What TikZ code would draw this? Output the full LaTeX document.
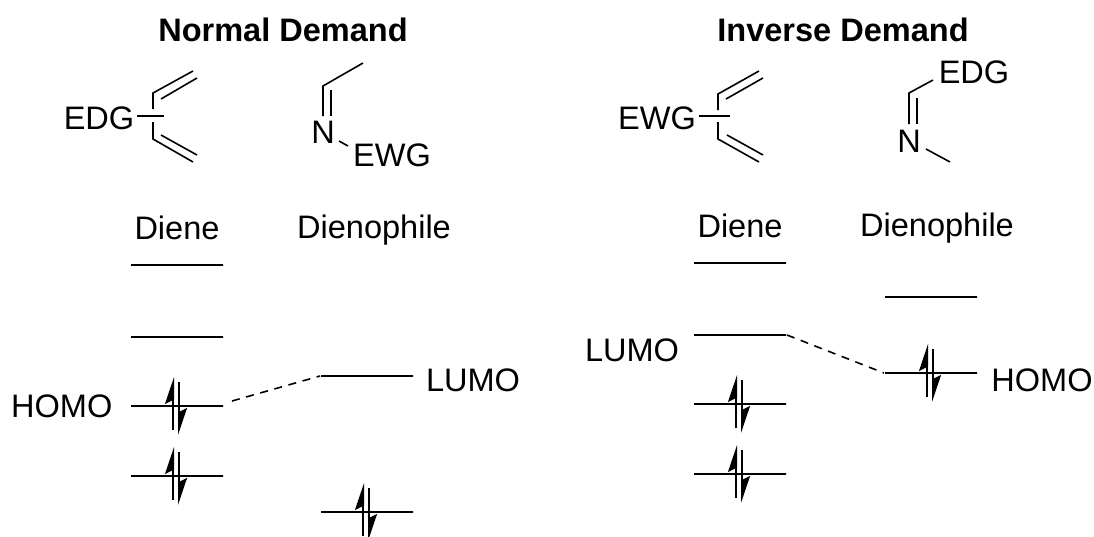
\documentclass[tikz,border=0pt]{standalone}
\usepackage{fontspec}
\setmainfont{Liberation Sans}
\usetikzlibrary{arrows.meta}
\tikzset{
    label text/.style={inner sep=0pt,font=\fontsize{24.4}{28}\selectfont},
    title text/.style={inner sep=0pt,font=\fontsize{24.4}{28}\selectfont\bfseries},
    orbital/.style={draw,line width=1.5pt,inner sep=0pt,minimum width=69pt,minimum height=0pt},
    bond/.style={line width=1.2pt},
    spinup/.style={line width=1.5pt,-{Stealth[harpoon,length=18pt,width=12pt,inset=3pt]}},
    spindown/.style={line width=1.5pt,-{Stealth[harpoon,length=18pt,width=12pt,inset=3pt]}},
    overlap/.style={line width=1.2pt,dashed,dash pattern=on 6pt off 5pt}
}
\begin{document}
\begin{tikzpicture}[x=0.75pt,y=-0.75pt]
    \clip (0,0) rectangle (1094,536);
    % normal demand
    \node[title text] (normal) at (283,30) {Normal Demand};
    \node[label text] (edgL) at (99,118) {EDG};
    \node[label text] (nL) at (323,132) {N};
    \node[label text] (ewgL) at (392,155) {EWG};
    \node[label text] (dieneL) at (177,228) {Diene};
    \node[label text] (phileL) at (374,230) {Dienophile};
    \draw[bond] (137,116) -- (164,116);
    \draw[bond] (153,109) -- (153,93) -- (193,71);
    \draw[bond] (161,99) -- (197,78);
    \draw[bond] (153,122) -- (153,139) -- (193,162);
    \draw[bond] (161,135) -- (197,155);
    \draw[bond] (363,63) -- (323,86) -- (323,116);
    \draw[bond] (331,90) -- (331,116);
    \draw[bond] (339,141) -- (348,146);
    \node[orbital] (dL1) at (177,265) {};
    \node[orbital] (dL2) at (177,337) {};
    \node[orbital] (dL3) at (177,406) {};
    \node[orbital] (dL4) at (177,476) {};
    \node[orbital] (pL1) at (367,376) {};
    \node[orbital] (pL2) at (367,512) {};
    \node[label text,left=13pt] (homoL) at (dL3.west) {HOMO};
    \node[label text] (lumoL) at (473,380) {LUMO};
    \coordinate (gapL) at (232,401);
    \draw[overlap] (gapL) -- (pL1.west);
    % inverse demand
    \node[title text] (inverse) at (843,30) {Inverse Demand};
    \node[label text] (ewgR) at (657,118) {EWG};
    \node[label text] (edgR) at (974,72) {EDG};
    \node[label text] (nR) at (909,141) {N};
    \node[label text] (dieneR) at (740,226) {Diene};
    \node[label text] (phileR) at (937,228) {Dienophile};
    \draw[bond] (699,116) -- (730,116);
    \draw[bond] (718,110) -- (718,94) -- (759,71);
    \draw[bond] (726,99) -- (763,78);
    \draw[bond] (718,122) -- (718,139) -- (759,162);
    \draw[bond] (727,135) -- (763,155);
    \draw[bond] (933,80) -- (909,93) -- (909,124);
    \draw[bond] (917,98) -- (917,124);
    \draw[bond] (926,149) -- (950,162);
    \node[orbital] (dR1) at (740,263) {};
    \node[orbital] (dR2) at (740,335) {};
    \node[orbital] (dR3) at (740,404) {};
    \node[orbital] (dR4) at (740,474) {};
    \node[orbital] (pR1) at (931,297) {};
    \node[orbital] (pR2) at (931,373) {};
    \node[label text] (lumoR) at (632,350) {LUMO};
    \node[label text] (homoR) at (1042,380) {HOMO};
    \draw[overlap] (dR2.east) -- (pR2.west);
    % electron pairs
    \foreach \lvl in {dL3,dL4,pL2,dR3,dR4,pR2} {
        \draw[spinup] ([shift={(-4,24)}]\lvl.center) -- ([shift={(-4,-29)}]\lvl.center);
        \draw[spindown] ([shift={(2,-24)}]\lvl.center) -- ([shift={(2,29)}]\lvl.center);
    }
\end{tikzpicture}
\end{document}
